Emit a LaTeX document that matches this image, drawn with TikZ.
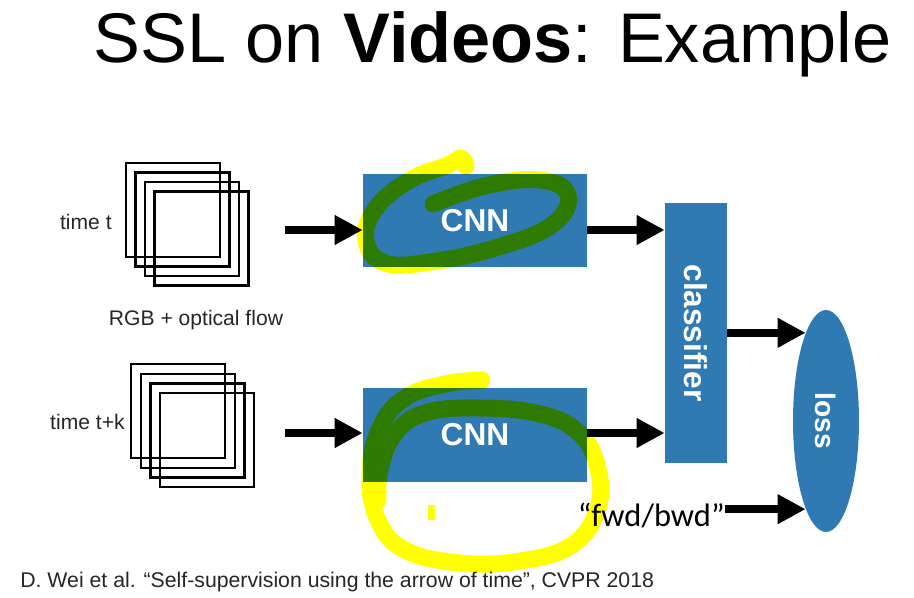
\documentclass[tikz,border=0pt]{standalone}
\usepackage{fontspec}
\setmainfont{Liberation Sans}
\newfontfamily\quotefont{Carlito}
\usepackage{graphicx}
\usetikzlibrary{arrows.meta,shapes.geometric}
\definecolor{boxblue}{RGB}{47,122,179}
\definecolor{marker}{RGB}{255,255,0}

\begin{document}
\begin{tikzpicture}[x=0.02cm,y=-0.02cm,
  blk/.style={fill=boxblue,text=white,font=\fontsize{18}{20}\selectfont\bfseries,inner sep=0pt},
  arr/.style={line width=0.15cm,-{Triangle[length=0.56cm,width=0.56cm]}},
  frm/.style={line width=1.3pt},
  hl/.style={draw=marker,line width=0.34cm,line cap=round,line join=round},
  lbl/.style={font=\fontsize{12}{14}\selectfont,text=black!85,inner sep=0pt}]
  %%%%% START %%%%%
  \useasboundingbox (0,0) rectangle (914,598);
  \node[anchor=base west,inner sep=0pt,font=\fontsize{40}{46}\selectfont] (title) at (93,63) {SSL on \textbf{Videos}: Example};

  % frame stacks
  \foreach \i in {0,...,3}
    \draw[frm] (126+9.5*\i,163+9.5*\i) rectangle ++(94,94);
  \foreach \i in {0,...,3}
    \draw[frm] (131+9.7*\i,364+9.7*\i) rectangle ++(94,94);

  \node[lbl,anchor=east] (tA) at (112,222) {time t};
  \node[lbl,anchor=east] (tB) at (125,422) {time t+k};
  \node[lbl] (rgb) at (196,320) {RGB + optical flow};

  % blocks
  \node[blk,minimum width=4.48cm,minimum height=1.86cm] (cnnA) at (475,220.5) {CNN};
  \node[blk,minimum width=4.48cm,minimum height=1.87cm] (cnnB) at (475,435) {CNN};
  \node[blk,minimum width=1.24cm,minimum height=5.2cm] (cls) at (696,333) {\rotatebox{-90}{classifier}};
  \node[blk,ellipse,minimum width=1.32cm,minimum height=4.44cm,font=\fontsize{16}{18}\selectfont\bfseries] (loss) at (826,421) {\rotatebox{-90}{loss}};
  \node[anchor=east,inner sep=0pt,font=\quotefont\fontsize{18.5}{20}\selectfont] (fwd) at (725,515) {“fwd/bwd”};

  % arrows
  \coordinate (inA) at (285,230);
  \coordinate (inB) at (285,433);
  \draw[arr] (inA) -- (inA -| cnnA.west);
  \draw[arr] (inB) -- (inB -| cnnB.west);
  \draw[arr] (cnnA.east |- inA) -- (inA -| cls.west);
  \draw[arr] (cnnB.east |- inB) -- (inB -| cls.west);
  \draw[arr] (cls.east |- loss.103) -- (loss.103);
  \draw[arr] (fwd.east |- loss.257) -- (loss.257);

  \node[anchor=base west,lbl,font=\fontsize{12.1}{14}\selectfont] (ref) at (20,587) {D. Wei et al. “Self-supervision using the arrow of time”, CVPR 2018};

  % marker scribbles
  \begin{scope}[blend mode=multiply]
    \draw[hl] plot[smooth,tension=0.7] coordinates {(433,204) (485,186) (540,180) (568,195) (552,225) (495,248) (430,262) (385,263) (366,240) (376,208) (410,180) (448,165) (461,158) (466,166)};
    \draw[hl] plot[smooth,tension=0.7] coordinates {(482,380) (445,384) (405,398) (380,428) (370,475) (378,520) (405,550) (460,563) (520,561) (572,545) (598,508) (597,465) (578,432) (540,414) (480,408) (425,413) (394,435) (380,470) (378,500)};
    \fill[marker] (428,505) rectangle (435,520);
  \end{scope}
  %%%%% END %%%%%
\end{tikzpicture}
\end{document}
